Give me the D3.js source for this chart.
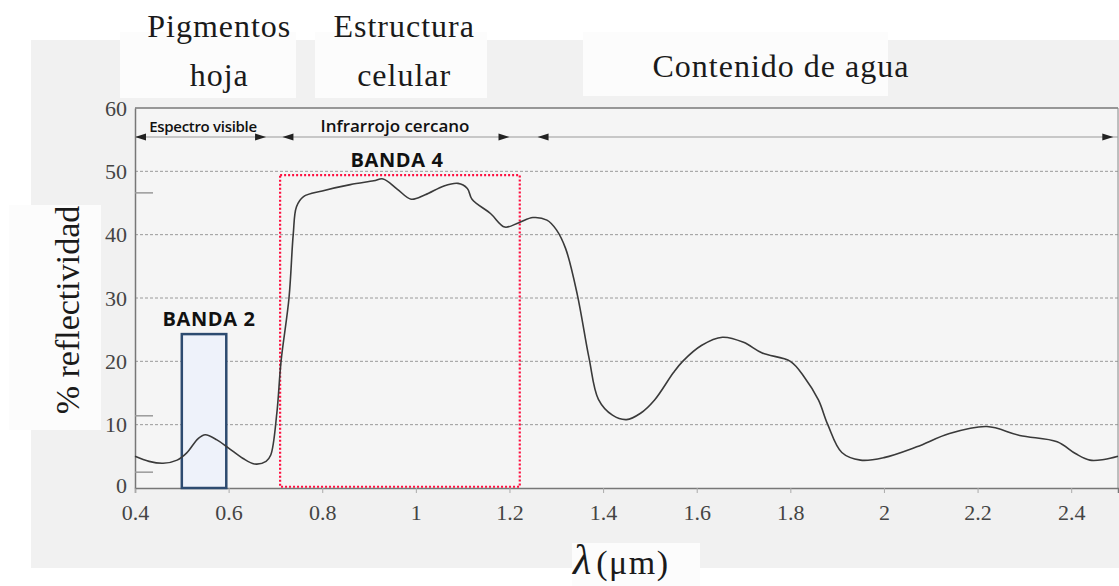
<!DOCTYPE html>
<head>
    <meta charset="utf-8">
    <title>Reflectividad de la vegetación</title>
    <script src="https://cdn.jsdelivr.net/npm/d3@7"></script>
</head>
<style>
    body { margin: 0; background: white; }
    svg { display: block; }
    .serif { font-family: "Liberation Serif", "DejaVu Serif", serif; }
    .sans { font-family: "Open Sans", "Liberation Sans", sans-serif; }
</style>
<body>
<svg id="chart" width="1119" height="586"></svg>
</body>
<script>

    // reflectance curve (wavelength in um, % reflectance)
    var wavelength = [0.40, 0.43, 0.46, 0.49, 0.51, 0.535, 0.55, 0.575, 0.60, 0.63, 0.655, 0.68, 0.69,
        0.703, 0.712, 0.729, 0.738, 0.745, 0.76, 0.80, 0.86, 0.91, 0.93, 0.96, 0.99, 1.02, 1.06, 1.09,
        1.11, 1.12, 1.16, 1.19, 1.22, 1.25, 1.28, 1.30, 1.32, 1.345, 1.37, 1.39, 1.42, 1.45, 1.48, 1.51,
        1.55, 1.57, 1.61, 1.655, 1.70, 1.74, 1.80, 1.83, 1.86, 1.88, 1.91, 1.95, 2.00, 2.07, 2.14, 2.22,
        2.29, 2.37, 2.41, 2.44, 2.47, 2.50]
    var reflectance = [5.0, 4.2, 3.9, 4.4, 5.5, 7.8, 8.4, 7.6, 6.3, 4.7, 3.8, 4.2, 5.2,
        11.8, 20, 30, 40, 44.4, 46.0, 46.9, 47.9, 48.5, 48.8, 47.2, 45.6, 46.3, 47.7, 48.1,
        47.3, 45.6, 43.3, 41.2, 41.9, 42.7, 42.3, 40.8, 37.8, 30.5, 20.5, 14.0, 11.5, 10.8, 11.8, 13.9,
        18.2, 20.0, 22.5, 23.8, 23.0, 21.3, 20.0, 17.5, 13.9, 10.0, 5.6, 4.4, 4.8, 6.5, 8.6, 9.7,
        8.3, 7.3, 5.4, 4.4, 4.5, 5.0]

    var xTicks = [0.4, 0.6, 0.8, 1, 1.2, 1.4, 1.6, 1.8, 2, 2.2, 2.4]
    var yTicks = [0, 10, 20, 30, 40, 50, 60]
    var stubTicks = [2.5, 11.4, 46.6]   // leftover short marks on the y axis

    // highlighted bands [start, end, top]
    var banda2 = [0.5, 0.595, 24.3]
    var banda4 = [0.71, 1.222, 49.4]

    // spectral regions drawn as arrows
    var regionNames = ["Espectro visible", "Infrarrojo cercano", ""]
    var regionStart = [0.4, 0.715, 1.26]
    var regionEnd = [0.68, 1.2, 2.49]

    // headers above the chart
    var headerLines = [["Pigmentos", "hoja"], ["Estructura", "celular"], ["Contenido de agua"]]
    var headerPos = [0.58, 0.975, 1.78]

    var svg = d3.select("#chart")
    var x = d3.scaleLinear().domain([0.4, 2.5]).range([135, 1118])
    var y = d3.scaleLinear().domain([0, 60]).range([488, 108])

    // scanned look: grey sheet with white patches
    svg.append("rect").attr("x", 31).attr("y", 40).attr("width", 1088).attr("height", 528).attr("fill", "#f1f1f1")
    var patches = [[120, 32, 176, 66], [315, 32, 172, 66], [583, 32, 305, 64], [9, 205, 92, 225], [572, 543, 128, 43]]
    patches.forEach(function(p) {
        svg.append("rect").attr("x", p[0]).attr("y", p[1]).attr("width", p[2]).attr("height", p[3]).attr("fill", "#fcfcfc")
    })
    svg.append("rect").attr("x", x(0.4)).attr("y", y(60)).attr("width", x(2.5) - x(0.4)).attr("height", y(0) - y(60))
        .attr("fill", "#f5f5f5")

    // gridlines
    svg.append("g").selectAll("line")
        .data(yTicks.filter(d => d > 0 && d < 60))
        .enter().append("line")
        .attr("x1", x(0.4)).attr("x2", x(2.5))
        .attr("y1", d => y(d)).attr("y2", d => y(d))
        .attr("stroke", "#9a9a9a").attr("stroke-width", 1).attr("stroke-dasharray", "3,2")

    // frame: top and right border
    svg.append("line").attr("x1", x(0.4)).attr("x2", x(2.5)).attr("y1", y(60)).attr("y2", y(60))
        .attr("stroke", "#777").attr("stroke-width", 1.5)
    svg.append("line").attr("x1", x(2.5)).attr("x2", x(2.5)).attr("y1", y(60)).attr("y2", y(0))
        .attr("stroke", "#888").attr("stroke-width", 1)

    // axes
    var xAxis = svg.append("g").attr("transform", "translate(0," + y(0) + ")")
        .call(d3.axisBottom(x).tickValues(xTicks).tickSize(5).tickPadding(11).tickFormat(d3.format("")))
    var yAxis = svg.append("g").attr("transform", "translate(" + x(0.4) + ",0)")
        .call(d3.axisLeft(y).tickValues(yTicks).tickSize(0).tickPadding(8))
    ;[xAxis, yAxis].forEach(function(a) {
        a.select(".domain").attr("stroke", "#777").attr("stroke-width", 1.5)
        a.selectAll(".tick line").attr("stroke", "#aaa")
        a.selectAll("text").attr("class", "serif").style("font-size", "22px").attr("fill", "#444")
    })
    yAxis.selectAll(".tick").filter(d => d == 0).select("text").attr("dy", "0.2em")

    svg.append("g").selectAll("line")
        .data(stubTicks).enter().append("line")
        .attr("x1", x(0.4)).attr("x2", x(0.4) + 18)
        .attr("y1", d => y(d)).attr("y2", d => y(d))
        .attr("stroke", "#999").attr("stroke-width", 1.5)

    // BANDA 2 box
    svg.append("rect")
        .attr("x", x(banda2[0])).attr("y", y(banda2[2]))
        .attr("width", x(banda2[1]) - x(banda2[0])).attr("height", y(0) - y(banda2[2]))
        .attr("fill", "#eef2fa").attr("stroke", "#2d4b70").attr("stroke-width", 2.5)

    // BANDA 4 box
    svg.append("rect")
        .attr("x", x(banda4[0])).attr("y", y(banda4[2]))
        .attr("width", x(banda4[1]) - x(banda4[0])).attr("height", y(0.2) - y(banda4[2]))
        .attr("fill", "none").attr("stroke", "#ff1040").attr("stroke-width", 2.2).attr("stroke-dasharray", "2,2")

    // curve
    var line = d3.line().x((d, i) => x(wavelength[i])).y(d => y(d)).curve(d3.curveCatmullRom.alpha(0.5))
    svg.append("path")
        .datum(reflectance)
        .attr("d", line)
        .attr("fill", "none").attr("stroke", "#3a3a3a").attr("stroke-width", 1.6)

    svg.append("text").attr("class", "sans").attr("x", 209).attr("y", 326)
        .attr("text-anchor", "middle").style("font-size", "20px").style("font-weight", "bold")
        .style("letter-spacing", "0.6px").attr("fill", "#111")
        .text("BANDA 2")
    svg.append("text").attr("class", "sans").attr("x", 397).attr("y", 167)
        .attr("text-anchor", "middle").style("font-size", "20px").style("font-weight", "bold")
        .style("letter-spacing", "0.6px").attr("fill", "#111")
        .text("BANDA 4")

    // region arrows
    var arrowY = 137
    svg.append("line").attr("x1", x(0.4)).attr("x2", x(2.5)).attr("y1", arrowY).attr("y2", arrowY)
        .attr("stroke", "#999").attr("stroke-width", 1.2)
    function arrowHead(px, dir) {
        svg.append("path")
            .attr("d", "M" + px + "," + arrowY + "l" + (-dir * 11) + ",-3.5l0,7z")
            .attr("fill", "#222")
    }
    regionNames.forEach(function(name, i) {
        arrowHead(x(regionStart[i]), -1)
        arrowHead(x(regionEnd[i]), 1)
        if (name != "") {
            svg.append("text").attr("class", "sans")
                .attr("x", i == 0 ? 203 : 395).attr("y", 132)
                .attr("text-anchor", "middle").style("font-size", i == 0 ? "15px" : "17px")
                .style("font-weight", "600").style("letter-spacing", i == 0 ? "-0.3px" : "0px").attr("fill", "#111")
                .text(name)
        }
    })

    // headers
    headerLines.forEach(function(lines, i) {
        lines.forEach(function(t, j) {
            svg.append("text").attr("class", "serif")
                .attr("x", x(headerPos[i])).attr("y", lines.length == 1 ? 77 : 37 + j * 49)
                .attr("text-anchor", "middle").style("font-size", "32px").style("letter-spacing", "1px")
                .attr("fill", "#1a1a1a")
                .text(t)
        })
    })

    // axis titles
    svg.append("text").attr("class", "serif")
        .attr("transform", "translate(79,310) rotate(-90)")
        .attr("text-anchor", "middle").style("font-size", "34px").attr("fill", "#1a1a1a")
        .text("% reflectividad")
    var xl = svg.append("text").attr("class", "serif").attr("x", 573).attr("y", 574)
        .attr("text-anchor", "start").attr("fill", "#1a1a1a")
    xl.append("tspan").style("font-size", "42px").style("font-style", "italic").text("λ")
    xl.append("tspan").attr("dx", 5).style("font-size", "34px").style("letter-spacing", "1.5px").text("(μm)")

</script>
</html>
